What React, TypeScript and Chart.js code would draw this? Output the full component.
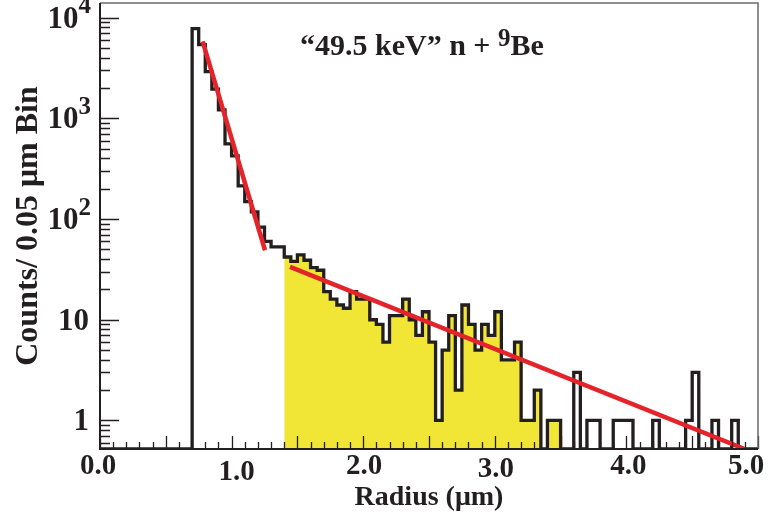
import React, { useEffect, useRef } from "react";
import { Chart, registerables } from "chart.js";

Chart.register(...registerables);

// ---------- data ----------
const BIN_WIDTH = 0.05; // μm
// counts per 0.05 μm bin, bins starting at 0.00, 0.05, ... 4.95
const binCounts = [
  0, 0, 0, 0, 0, 0, 0, 0, 0, 0, 0, 0, 0, 0, // 0.00 - 0.65
  7800, 5400, 2920, 1950, 1215, 557, // 0.70 - 0.95
  424, 214, 149, 118, 83, 60, 53, 53, 42, 38, // 1.00 - 1.45
  44, 39, 33, 31, 19, 16, 14, 13, 19, 16, // 1.50 - 1.95
  16, 10, 9, 6, 11, 11, 16, 10, 7, 12, // 2.00 - 2.45
  6, 1, 5, 11, 2, 14, 9, 5, 9, 7, // 2.50 - 2.95
  12, 4, 4, 6, 1, 1, 2, 0, 1, 1, // 3.00 - 3.45
  0, 0, 3, 0, 1, 1, 0, 0, 1, 1, // 3.50 - 3.95
  1, 0, 0, 0, 1, 0, 0, 0, 0, 1, // 4.00 - 4.45
  3, 0, 0, 1, 0, 0, 1, 0, 0, 0, // 4.50 - 4.95
];
const fillFrom = 1.4; // shaded region (μm)
const fillTo = 3.5;
const fitLowX = [0.78, 1.254];
const fitLowY = [5810, 49];
const fitHighX = [1.444, 4.894];
const fitHighY = [33.5, 0.523];

const xTickValues = [0, 1, 2, 3, 4, 5];
const xTickLabels = ["0.0", "1.0", "2.0", "3.0", "4.0", "5.0"];
const yTickValues = [1, 10, 100, 1000, 10000];
const yTickBase = ["1", "10", "10", "10", "10"];
const yTickExp = ["", "", "2", "3", "4"];

const X_MIN = 0;
const X_MAX = 5;
const Y_MIN = 0.52;
const Y_MAX = 14000;

const titleMain = "\u201C49.5 keV\u201D n + ";
const titleSup = "9";
const titleEnd = "Be";

// ---------- style ----------
const FONT = '"Liberation Serif", "Times New Roman", Times, serif';
const INK = "#231f20";
const RED = "#e4232b";
const YELLOW = "#f1e636";

const rootStyle = {
  id: "rootStyle",
  afterDatasetsDraw(chart: any) {
    const { ctx, chartArea: a, scales } = chart;
    const xs = scales.x;
    const ys = scales.y;
    ctx.save();

    // inward ticks
    ctx.strokeStyle = INK;
    ctx.lineWidth = 1.3;
    ctx.beginPath();
    for (let i = 0; i <= 50; i++) {
      const px = Math.round(xs.getPixelForValue(i / 10)) + 0.5;
      const len = i % 5 === 0 ? 13 : 7;
      ctx.moveTo(px, a.bottom);
      ctx.lineTo(px, a.bottom - len);
    }
    for (let d = -1; d <= 4; d++) {
      for (let m = 1; m <= 9; m++) {
        const v = m * Math.pow(10, d);
        if (v < Y_MIN || v > Y_MAX) continue;
        const py = Math.round(ys.getPixelForValue(v)) + 0.5;
        const len = m === 1 ? 19 : 10;
        ctx.moveTo(a.left, py);
        ctx.lineTo(a.left + len, py);
      }
    }
    ctx.stroke();

    // frame
    ctx.strokeStyle = "#6b6b6b";
    ctx.lineWidth = 1.5;
    ctx.beginPath();
    ctx.moveTo(a.left, a.top);
    ctx.lineTo(a.right, a.top);
    ctx.lineTo(a.right, a.bottom);
    ctx.stroke();
    ctx.strokeStyle = INK;
    ctx.lineWidth = 2;
    ctx.beginPath();
    ctx.moveTo(a.left, a.top);
    ctx.lineTo(a.left, a.bottom);
    ctx.lineTo(a.right, a.bottom);
    ctx.stroke();

    // y tick labels (ROOT-like superscripts)
    ctx.fillStyle = INK;
    ctx.textBaseline = "middle";
    ctx.textAlign = "right";
    yTickValues.forEach((v, i) => {
      const py = ys.getPixelForValue(v);
      const exp = yTickExp[i];
      if (exp) {
        ctx.font = `bold 25px ${FONT}`;
        const ew = ctx.measureText(exp).width;
        ctx.fillText(exp, 91, py - 11);
        ctx.font = `bold 31px ${FONT}`;
        ctx.fillText(yTickBase[i], 91 - ew, py + 2);
      } else {
        ctx.font = `bold 31px ${FONT}`;
        ctx.fillText(yTickBase[i], 89, py + 2);
      }
    });

    // x tick labels
    const dx = [-2, 5, 1, 1, 2, -12];
    const dy = [0, 6, 0, 3, 0, 0];
    ctx.textAlign = "center";
    ctx.font = `bold 29px ${FONT}`;
    xTickValues.forEach((v, i) => {
      const px = xs.getPixelForValue(v);
      ctx.fillText(xTickLabels[i], px + dx[i], a.bottom + 18 + dy[i]);
    });

    // in-plot title with superscript
    ctx.textAlign = "left";
    ctx.textBaseline = "alphabetic";
    const tx = 300;
    const ty = 55;
    ctx.font = `bold 30px ${FONT}`;
    ctx.fillText(titleMain, tx, ty);
    const w1 = ctx.measureText(titleMain).width;
    ctx.font = `bold 25px ${FONT}`;
    ctx.fillText(titleSup, tx + w1, ty - 9);
    const w2 = ctx.measureText(titleSup).width;
    ctx.font = `bold 30px ${FONT}`;
    ctx.fillText(titleEnd, tx + w1 + w2, ty);

    ctx.restore();
  },
};

export default function App() {
  const ref = useRef<HTMLCanvasElement>(null);

  useEffect(() => {
    const canvas = ref.current;
    if (!canvas) return;

    const edges = binCounts.map((_, i) => Math.round(i * BIN_WIDTH * 100) / 100);
    const histPts = binCounts.map((c, i) => ({ x: edges[i], y: c > 0 ? c : Y_MIN }));
    histPts.push({ x: X_MAX, y: Y_MIN });
    const fillPts = histPts.filter((p) => p.x >= fillFrom - 1e-9 && p.x < fillTo - 1e-9);
    fillPts.push({ x: fillTo, y: Y_MIN });

    const chart = new Chart(canvas, {
      type: "line",
      data: {
        datasets: [
          {
            data: fitLowX.map((x, i) => ({ x, y: fitLowY[i] })),
            borderColor: RED,
            borderWidth: 4.5,
            pointRadius: 0,
            fill: false,
            order: 0,
          },
          {
            data: fitHighX.map((x, i) => ({ x, y: fitHighY[i] })),
            borderColor: RED,
            borderWidth: 4.5,
            pointRadius: 0,
            fill: false,
            order: 0,
          },
          {
            data: histPts,
            stepped: "before",
            borderColor: INK,
            borderWidth: 3.3,
            pointRadius: 0,
            fill: false,
            order: 1,
          },
          {
            data: fillPts,
            stepped: "before",
            borderColor: "rgba(0,0,0,0)",
            borderWidth: 1,
            backgroundColor: YELLOW,
            pointRadius: 0,
            fill: "start",
            order: 2,
          },
        ],
      } as any,
      options: {
        responsive: false,
        animation: false,
        devicePixelRatio: 1,
        layout: { padding: { left: 0, right: 10, top: 3, bottom: 0 } },
        plugins: { legend: { display: false }, tooltip: { enabled: false } },
        scales: {
          x: {
            type: "linear",
            min: X_MIN,
            max: X_MAX,
            grid: { display: false, drawTicks: false },
            border: { display: false },
            ticks: { display: false },
            title: {
              display: true,
              text: "Radius (\u03BCm)",
              color: INK,
              font: { family: FONT, size: 28, weight: "bold" },
              padding: { top: 0, bottom: 2 },
            },
            afterFit: (s: any) => {
              s.height = 68;
              s.paddingLeft = 0;
              s.paddingRight = 0;
            },
          },
          y: {
            type: "logarithmic",
            min: Y_MIN,
            max: Y_MAX,
            grid: { display: false, drawTicks: false },
            border: { display: false },
            ticks: { display: false },
            title: {
              display: true,
              text: "Counts/ 0.05 \u03BCm Bin",
              color: INK,
              font: { family: FONT, size: 32, weight: "bold" },
              padding: { top: 10, bottom: 0 },
            },
            afterFit: (s: any) => {
              s.width = 100;
              s.paddingTop = 0;
              s.paddingBottom = 0;
            },
          },
        },
      } as any,
      plugins: [rootStyle],
    });

    return () => chart.destroy();
  }, []);

  return (
    <div style={{ position: "absolute", left: 0, top: 0, width: 768, height: 517, background: "#fff" }}>
      <canvas ref={ref} width={768} height={517} style={{ display: "block" }} />
    </div>
  );
}
